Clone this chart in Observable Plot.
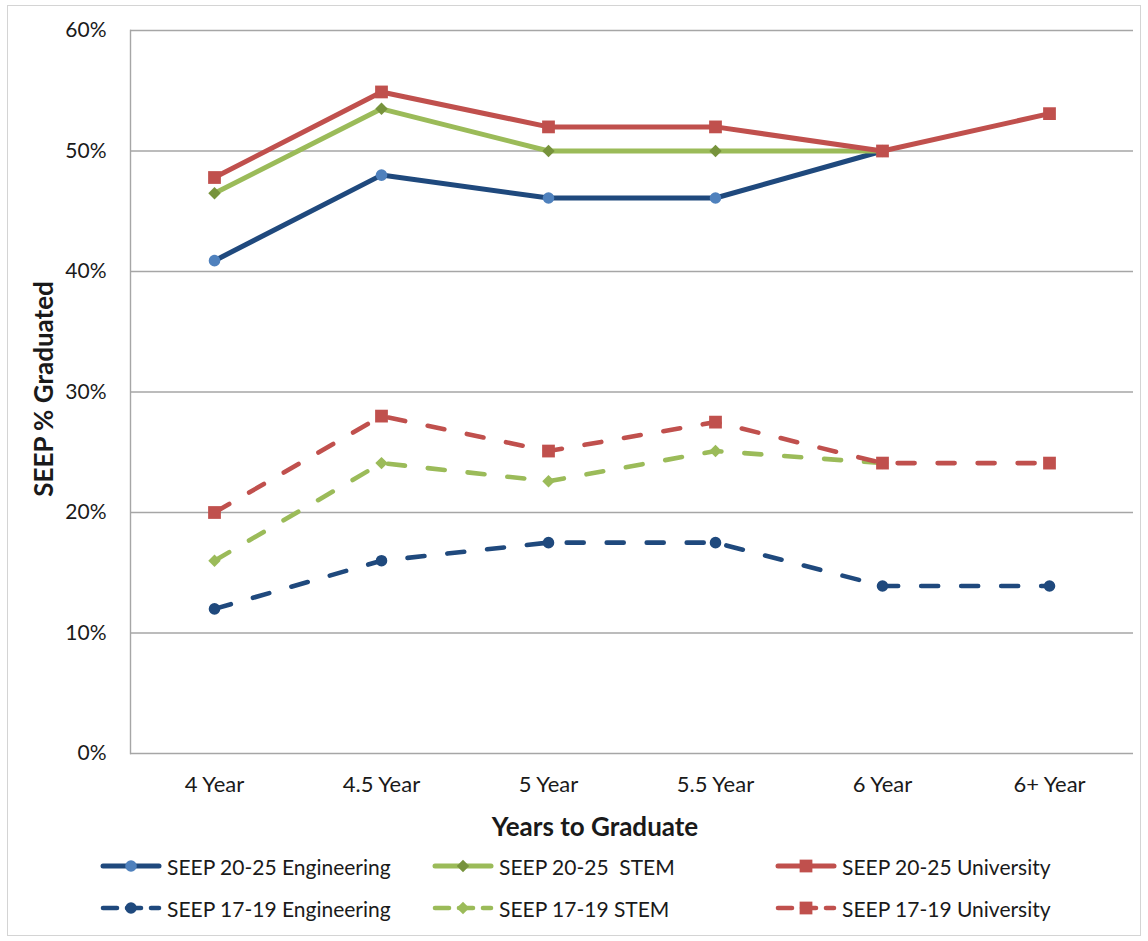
<!DOCTYPE html>
<html>
<head>
<meta charset="utf-8">
<script src="https://cdn.jsdelivr.net/npm/d3@7"></script>
<script src="https://cdn.jsdelivr.net/npm/@observablehq/plot@0.6"></script>
<style>
  body { margin: 0; background: #fff; font-family: Lato, "Open Sans", sans-serif; color: #1a1a1a; }
  #wrap { position: relative; width: 1148px; height: 941px; }
  #border { position: absolute; left: 7px; top: 5px; width: 1132px; height: 929px; border: 1px solid #d4d4d4; pointer-events: none; }
  #plot { position: absolute; left: 0; top: 0; }
  #legend { position: absolute; left: 0; top: 850px; width: 1148px; height: 80px; }
  .item { position: absolute; display: flex; align-items: center; height: 24px; font-size: 21px; white-space: pre; }
  .item svg { margin-right: 5px; }
</style>
</head>
<body>
<div id="wrap">
  <div id="plot"></div>
  <div id="legend"></div>
  <div id="border"></div>
</div>
<script>
// Categories along the x axis
const years = ["4 Year", "4.5 Year", "5 Year", "5.5 Year", "6 Year", "6+ Year"];

// Share of each cohort graduated (null = no value)
const eng2025  = [0.409, 0.480, 0.461, 0.461, 0.500, null];
const stem2025 = [0.465, 0.535, 0.500, 0.500, 0.500, null];
const univ2025 = [0.478, 0.549, 0.520, 0.520, 0.500, 0.531];
const eng1719  = [0.120, 0.160, 0.175, 0.175, 0.139, 0.139];
const stem1719 = [0.160, 0.241, 0.226, 0.251, 0.241, null];
const univ1719 = [0.200, 0.280, 0.251, 0.275, 0.241, 0.241];

const yTicks = [0, 0.1, 0.2, 0.3, 0.4, 0.5, 0.6];

const series = [
  {name: "SEEP 20-25 Engineering", values: eng2025,  line: "#1f497d", marker: "#4f81bd", symbol: "circle",   r: 5.8, dashed: false},
  {name: "SEEP 20-25  STEM",       values: stem2025, line: "#9bbb59", marker: "#77933c", symbol: "diamond2", r: 5.6, dashed: false},
  {name: "SEEP 20-25 University",  values: univ2025, line: "#c0504d", marker: "#c0504d", symbol: "square",   r: 7.2, dashed: false},
  {name: "SEEP 17-19 Engineering", values: eng1719,  line: "#1f497d", marker: "#1f497d", symbol: "circle",   r: 5.8, dashed: true},
  {name: "SEEP 17-19 STEM",        values: stem1719, line: "#9bbb59", marker: "#9bbb59", symbol: "diamond2", r: 5.6, dashed: true},
  {name: "SEEP 17-19 University",  values: univ1719, line: "#c0504d", marker: "#c0504d", symbol: "square",   r: 7.2, dashed: true}
];

const DASH = "17,23";

function rows(s) {
  return years.map((year, i) => ({year, value: s.values[i], series: s.name}))
              .filter(d => d.value != null);
}

// Draw order: engineering under STEM under university
const drawOrder = [3, 4, 5, 0, 1, 2].map(i => series[i]);

const seriesMarks = drawOrder.flatMap(s => {
  const data = rows(s);
  return [
    Plot.line(data, {
      x: "year", y: "value", stroke: s.line, strokeWidth: s.dashed ? 4.6 : 5,
      strokeDasharray: s.dashed ? DASH : null, strokeLinecap: "round", strokeLinejoin: "round"
    }),
    Plot.dot(data, {x: "year", y: "value", symbol: () => s.symbol, r: s.r, fill: s.marker, stroke: "none"})
  ];
});

const chart = Plot.plot({
  width: 1148,
  height: 850,
  marginLeft: 130,
  marginRight: 15,
  marginTop: 30,
  marginBottom: 97,
  style: {fontFamily: "Lato, 'Open Sans', sans-serif", fontSize: "21px", color: "#1a1a1a", background: "transparent"},
  x: {type: "point", domain: years, padding: 0.5},
  y: {domain: [0, 0.6]},
  symbol: {type: "identity"},
  marks: [
    Plot.gridY(yTicks, {stroke: "#a6a6a6", strokeOpacity: 1, strokeWidth: 1.4}),
    Plot.frame({anchor: "left", stroke: "#a6a6a6", strokeWidth: 1.4}),
    Plot.axisY(yTicks, {tickSize: 0, tickPadding: 24, tickFormat: d3.format(".0%"), label: null, fontSize: 21}),
    Plot.axisX({tickSize: 0, tickPadding: 23, label: null, fontSize: 22}),
    Plot.text(["Years to Graduate"], {frameAnchor: "bottom", dx: -37, dy: 82, fontWeight: "bold", fontSize: 26}),
    Plot.text(["SEEP % Graduated"], {frameAnchor: "left", textAnchor: "middle", dx: -86, dy: -3, rotate: -90, fontWeight: "bold", fontSize: 26}),
    ...seriesMarks
  ]
});
document.getElementById("plot").appendChild(chart);

// Legend: two rows of three entries, line sample with marker then name
const legendPos = [
  [100, 4], [432, 4], [775, 4],
  [100, 46], [432, 46], [775, 46]
];
const legend = d3.select("#legend");
series.forEach((s, i) => {
  const [left, top] = legendPos[i];
  const item = legend.append("div").attr("class", "item").style("left", left + "px").style("top", top + "px");
  const svg = item.append("svg").attr("width", 62).attr("height", 24);
  svg.append("line")
    .attr("x1", 3).attr("x2", 59).attr("y1", 12).attr("y2", 12)
    .attr("stroke", s.line).attr("stroke-width", s.dashed ? 4.6 : 5)
    .attr("stroke-linecap", "round")
    .attr("stroke-dasharray", s.dashed ? "14,10" : null);
  const sym = {circle: d3.symbolCircle, diamond2: d3.symbolDiamond2, square: d3.symbolSquare}[s.symbol];
  svg.append("path")
    .attr("transform", "translate(31,12)")
    .attr("d", d3.symbol(sym, Math.PI * s.r * s.r)())
    .attr("fill", s.marker);
  item.append("span").text(s.name);
});
</script>
</body>
</html>
